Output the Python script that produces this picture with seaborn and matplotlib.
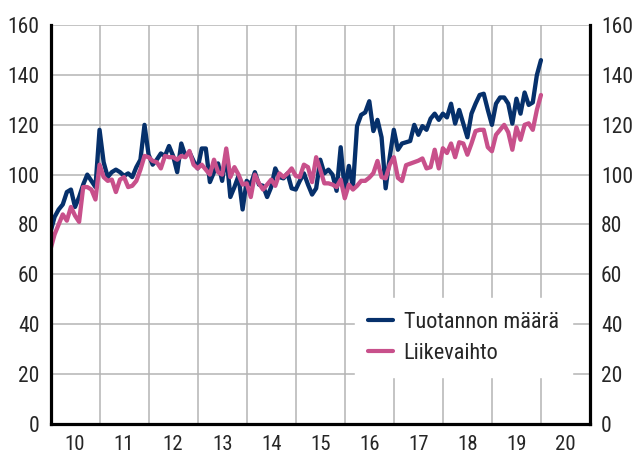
import numpy as np
import pandas as pd
import seaborn as sns
import matplotlib
matplotlib.use('Agg')
import matplotlib.pyplot as plt
from matplotlib import font_manager
from matplotlib.lines import Line2D

# Kuukausittaiset indeksit, tammikuu 2010 - tammikuu 2020
tuotanto = [77, 83, 86, 88, 93, 94, 87, 91, 96, 100, 97.5, 95,
            118, 105, 99, 101, 102, 101, 99.5, 100.5, 99, 103, 106, 120,
            108, 104, 106, 108.5, 107.5, 111.5, 107.5, 101, 112.5, 107.5, 109, 105.5,
            102.5, 110.5, 110.5, 97, 101, 104.5, 97.5, 108.5, 91, 95, 99.5, 86,
            97.5, 96, 101, 96, 95.5, 91, 95, 102.5, 99, 98.5, 100.5, 94.5,
            94, 97.5, 100.5, 96, 92, 94.5, 106, 100.5, 102, 100, 93.5, 111,
            93.5, 103.5, 95, 119.5, 124, 125, 129.5, 117.5, 122, 115, 94.5, 107,
            118, 110, 112.5, 113, 113.5, 120, 116, 119.5, 118, 122.5, 124.5, 122,
            124.5, 123, 128.5, 120.5, 126, 120.5, 115, 124.5, 128.5, 132, 132.5, 126,
            120, 128.5, 131, 131, 128.5, 120.5, 130.5, 124.5, 133, 128, 129, 140,
            146]
liikevaihto = [70, 76, 80, 84, 81.5, 87, 83.5, 81, 95, 95, 94, 90,
               104, 99, 97.5, 98, 93, 98, 99, 95, 95.5, 97.5, 102, 107.5,
               107, 105.5, 105, 102.5, 107.5, 107, 107, 106, 107.5, 107, 109.5, 104,
               102.5, 104, 102, 100, 106, 101, 100, 110.5, 99, 103, 100, 96,
               96.5, 91, 100, 96.5, 94, 96, 98, 95.5, 100.5, 99, 100.5, 102.5,
               99.5, 99, 104, 103, 97, 107, 102, 96.5, 96.5, 96, 95, 98,
               90.5, 96, 94, 95.5, 97.5, 97.5, 98.8, 100.6, 105.5, 99, 98.5, 104,
               107, 98.7, 97.4, 103.8, 104.4, 105, 105.6, 106.5, 102.5, 103, 110, 102.5,
               110.6, 108.7, 112.5, 107, 113, 112.5, 108, 112.5, 117.5, 118, 118, 111,
               109.4, 116, 118, 120, 117, 110, 119, 114, 120, 120.6, 118, 126,
               132]
vuodet = list(range(2010, 2021))
vuosi_labels = [str(v)[2:] for v in vuodet]
y_ticks = [0, 20, 40, 60, 80, 100, 120, 140, 160]

sarjat = ['Tuotannon määrä', 'Liikevaihto']
varit = ['#06306b', '#c8508b']

sns.set_style('white')

# Kapea fontti jos löytyy
fonts = {f.name for f in font_manager.fontManager.ttflist}
perhe = [f for f in ['Liberation Sans Narrow', 'Roboto Condensed', 'Open Sans', 'DejaVu Sans'] if f in fonts]
plt.rcParams['font.family'] = perhe

t = 2010 + np.arange(len(tuotanto)) / 12
df = pd.DataFrame({'aika': np.concatenate([t, t]),
                   'arvo': tuotanto + liikevaihto,
                   'sarja': [sarjat[0]] * len(tuotanto) + [sarjat[1]] * len(liikevaihto)})

fig = plt.figure(figsize=(6.32, 4.55), dpi=100)
ax = fig.add_axes([50.5 / 632, (455 - 423.5) / 455, 539.5 / 632, 398.2 / 455])

sns.lineplot(data=df, x='aika', y='arvo', hue='sarja', hue_order=sarjat,
             palette=varit, linewidth=3.1, ax=ax, legend=False, zorder=3)

ax.set_xlim(2010, 2021)
ax.set_ylim(0, 160)
ax.set_xlabel('')
ax.set_ylabel('')

# Vuosirajat ruudukkona, nimet vuoden keskelle
ax.set_xticks(vuodet[1:])
ax.set_xticklabels([])
ax.set_xticks([v + 0.5 for v in vuodet], minor=True)
ax.set_xticklabels(vuosi_labels, minor=True, fontsize=15)
ax.tick_params(axis='x', which='both', length=0, pad=8)

ax.set_yticks(y_ticks)
ax.set_yticklabels([str(v) for v in y_ticks], fontsize=15.5)
ax.tick_params(axis='y', length=0, pad=8, labelright=True)

ax.grid(True, which='major', color='#b4b4b4', linewidth=1.1, zorder=0)

for s in ['left', 'right', 'bottom']:
    ax.spines[s].set_color('black')
    ax.spines[s].set_linewidth(2.3)
    ax.spines[s].set_zorder(4)
ax.spines['top'].set_visible(False)

kahvat = [Line2D([], [], color=c, linewidth=3) for c in varit]
leg = ax.legend(kahvat, sarjat, loc='lower left', bbox_to_anchor=(0.564, 0.117),
                borderaxespad=0, frameon=True, fontsize=16, handlelength=1.1,
                handletextpad=0.5, labelspacing=0.45, borderpad=0.6)
leg.get_frame().set_facecolor('white')
leg.get_frame().set_edgecolor('white')
leg.get_frame().set_alpha(1)
leg.get_frame().set_boxstyle('square', pad=0)
leg.set_zorder(5)

plt.savefig('out.png', dpi=100)
